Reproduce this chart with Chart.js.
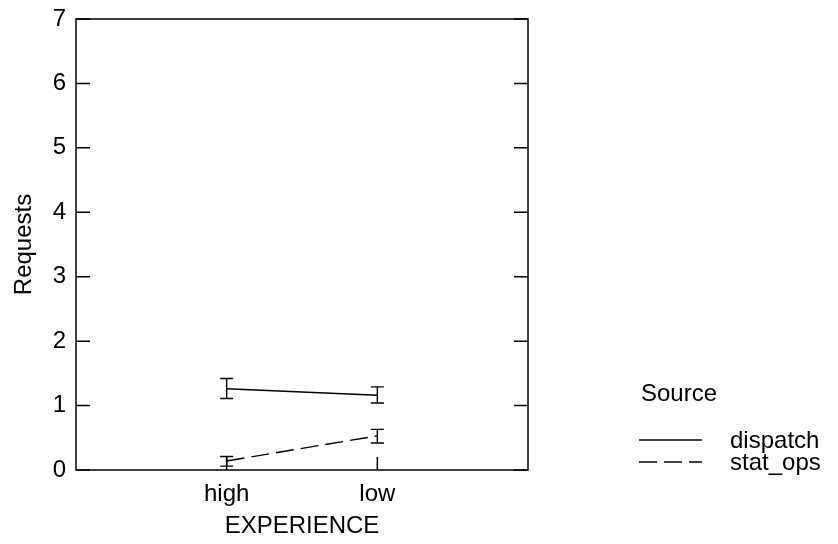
<!DOCTYPE html>
<html>
<head>
<meta charset="utf-8">
<script src="https://cdn.jsdelivr.net/npm/chart.js@4/dist/chart.umd.min.js"></script>
<style>
  html, body { margin: 0; padding: 0; background: #fff; }
</style>
</head>
<body>
<canvas id="chart" width="838" height="544"></canvas>
<script>
// data
const categories = ['high', 'low'];
const series_names = ['dispatch', 'stat_ops'];
const dispatch_mean = [1.26, 1.16];
const dispatch_low = [1.11, 1.04];
const dispatch_high = [1.42, 1.29];
const stat_ops_mean = [0.14, 0.53];
const stat_ops_low = [0.06, 0.42];
const stat_ops_high = [0.21, 0.63];
const y_ticks = [0, 1, 2, 3, 4, 5, 6, 7];

const FONT = { family: 'Liberation Sans, Arial, sans-serif', size: 24 };
const DASH = [18, 7];

function points(values) {
  return values.map((v, i) => ({ x: i + 1, y: v }));
}

const errorBars = [
  { low: dispatch_low, high: dispatch_high },
  { low: stat_ops_low, high: stat_ops_high }
];

// box, inward ticks, error bars, legend
const framePlugin = {
  id: 'frame',
  afterDatasetsDraw(chart) {
    const ctx = chart.ctx;
    const area = chart.chartArea;
    const xs = chart.scales.x;
    const ys = chart.scales.y;
    ctx.save();
    ctx.strokeStyle = '#000';
    ctx.lineWidth = 1.5;
    ctx.setLineDash([]);

    ctx.strokeRect(area.left, area.top, area.right - area.left, area.bottom - area.top);

    ctx.beginPath();
    y_ticks.forEach(v => {
      const y = ys.getPixelForValue(v);
      ctx.moveTo(area.left, y); ctx.lineTo(area.left + 14, y);
      ctx.moveTo(area.right, y); ctx.lineTo(area.right - 14, y);
    });
    categories.forEach((c, i) => {
      const x = xs.getPixelForValue(i + 1);
      ctx.moveTo(x, area.bottom); ctx.lineTo(x, area.bottom - 13);
    });
    ctx.stroke();

    // error bars
    ctx.lineWidth = 1.4;
    ctx.beginPath();
    errorBars.forEach(eb => {
      categories.forEach((c, i) => {
        const x = xs.getPixelForValue(i + 1);
        const y1 = ys.getPixelForValue(eb.low[i]);
        const y2 = ys.getPixelForValue(eb.high[i]);
        ctx.moveTo(x, y1); ctx.lineTo(x, y2);
        ctx.moveTo(x - 6.5, y1); ctx.lineTo(x + 6.5, y1);
        ctx.moveTo(x - 6.5, y2); ctx.lineTo(x + 6.5, y2);
      });
    });
    ctx.stroke();

    // legend
    ctx.fillStyle = '#000';
    ctx.font = FONT.size + 'px ' + FONT.family;
    ctx.textBaseline = 'alphabetic';
    ctx.textAlign = 'left';
    ctx.fillText('Source', 641, 401);
    const rows = [440, 462];
    series_names.forEach((name, i) => {
      ctx.beginPath();
      ctx.setLineDash(i === 0 ? [] : DASH);
      ctx.lineWidth = 1.4;
      ctx.moveTo(639, rows[i]);
      ctx.lineTo(702, rows[i]);
      ctx.stroke();
      ctx.fillText(name, 730, rows[i] + 8);
    });
    ctx.restore();
  }
};

new Chart(document.getElementById('chart'), {
  type: 'line',
  data: {
    datasets: [
      {
        label: series_names[0],
        data: points(dispatch_mean),
        borderColor: '#000',
        borderWidth: 1.4,
        pointRadius: 0,
        fill: false
      },
      {
        label: series_names[1],
        data: points(stat_ops_mean),
        borderColor: '#000',
        borderWidth: 1.4,
        borderDash: DASH,
        pointRadius: 0,
        fill: false
      }
    ]
  },
  options: {
    responsive: false,
    animation: false,
    layout: { padding: { left: 0, top: 19, right: 310, bottom: 0 } },
    plugins: { legend: { display: false }, tooltip: { enabled: false } },
    scales: {
      x: {
        type: 'linear',
        min: 0,
        max: 3,
        afterBuildTicks: s => { s.ticks = categories.map((c, i) => ({ value: i + 1 })); },
        afterFit: s => { s.height = 74; s.paddingLeft = 0; s.paddingRight = 0; },
        ticks: {
          callback: v => categories[v - 1],
          font: FONT,
          color: '#000',
          padding: 10,
          maxRotation: 0,
          autoSkip: false
        },
        grid: { display: false, drawTicks: false },
        border: { display: false },
        title: { display: true, text: 'EXPERIENCE', font: FONT, color: '#000', padding: { top: 0, bottom: 3 } }
      },
      y: {
        min: 0,
        max: 7,
        afterBuildTicks: s => { s.ticks = y_ticks.map(v => ({ value: v })); },
        afterFit: s => { s.width = 76; s.paddingTop = 0; s.paddingBottom = 0; },
        ticks: { font: FONT, color: '#000', padding: 10 },
        grid: { display: false, drawTicks: false },
        border: { display: false },
        title: { display: true, text: 'Requests', font: FONT, color: '#000', padding: { top: 10, bottom: 0 } }
      }
    }
  },
  plugins: [framePlugin]
});
</script>
</body>
</html>
